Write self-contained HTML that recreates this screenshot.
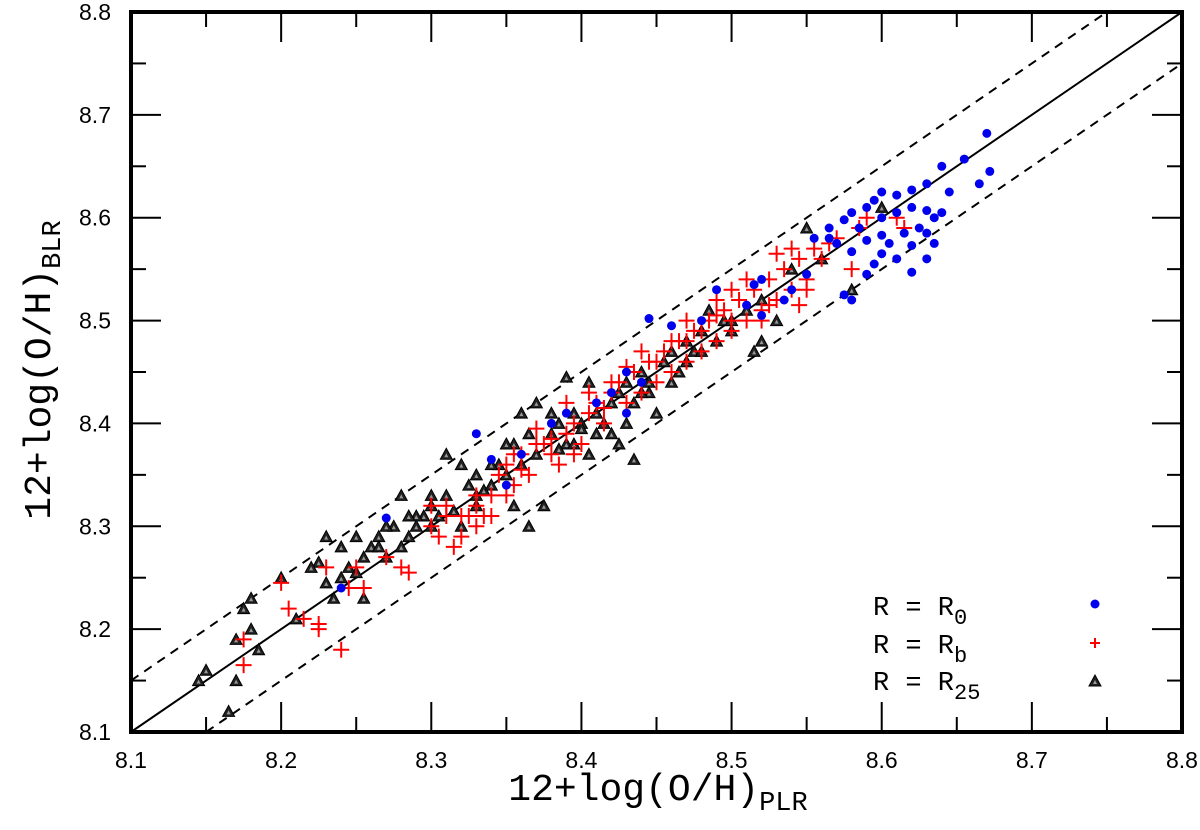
<!DOCTYPE html>
<html><head><meta charset="utf-8"><style>
html,body{margin:0;background:#fff;overflow:hidden;width:1200px;height:830px}
svg{display:block}
</style></head><body>
<svg id="chart" width="1200" height="830" xmlns="http://www.w3.org/2000/svg">
<g id="marks"></g>
<g id="axes"></g>
</svg>
<script>
const xTicks=[8.1,8.2,8.3,8.4,8.5,8.6,8.7,8.8];
const yTicks=[8.1,8.2,8.3,8.4,8.5,8.6,8.7,8.8];
const blueX=[8.67,8.655,8.672,8.665,8.64,8.645,8.63,8.62,8.61,8.60,8.595,8.59,8.58,8.575,8.585,8.6,8.61,8.62,8.63,8.635,8.64,8.625,8.615,8.6,8.59,8.605,8.62,8.63,8.635,8.61,8.6,8.595,8.58,8.57,8.565,8.59,8.62,8.63,8.575,8.58,8.55,8.54,8.535,8.52,8.51,8.515,8.52,8.49,8.48,8.46,8.445,8.43,8.44,8.42,8.41,8.39,8.38,8.43,8.36,8.34,8.33,8.35,8.27,8.24,8.555,8.565];
const blueY=[8.682,8.657,8.645,8.633,8.65,8.625,8.633,8.627,8.622,8.625,8.617,8.61,8.605,8.598,8.59,8.6,8.605,8.61,8.607,8.6,8.605,8.59,8.585,8.583,8.578,8.575,8.573,8.585,8.575,8.56,8.565,8.555,8.567,8.575,8.58,8.545,8.547,8.56,8.525,8.52,8.545,8.53,8.52,8.505,8.515,8.535,8.54,8.53,8.5,8.495,8.502,8.45,8.44,8.43,8.42,8.41,8.4,8.41,8.37,8.365,8.39,8.34,8.308,8.24,8.58,8.59];
const redX=[8.175,8.175,8.2,8.205,8.215,8.225,8.225,8.23,8.24,8.245,8.25,8.255,8.27,8.28,8.285,8.3,8.305,8.31,8.315,8.32,8.325,8.33,8.335,8.34,8.345,8.35,8.355,8.36,8.365,8.37,8.375,8.38,8.385,8.39,8.395,8.40,8.405,8.41,8.415,8.42,8.425,8.43,8.435,8.44,8.445,8.45,8.455,8.46,8.465,8.47,8.475,8.48,8.485,8.49,8.495,8.5,8.505,8.51,8.515,8.52,8.525,8.53,8.535,8.54,8.545,8.55,8.555,8.56,8.565,8.57,8.58,8.585,8.59,8.61,8.615,8.5,8.51,8.49,8.47,8.46,8.44,8.43,8.42,8.405,8.39,8.37,8.36,8.35,8.34,8.33,8.32,8.3,8.55,8.545,8.52,8.525,8.48,8.47,8.45,8.415,8.395,8.38,8.355,8.33,8.31,8.53,8.54,8.5,8.49];
const redY=[8.19,8.165,8.245,8.22,8.21,8.2,8.205,8.26,8.18,8.24,8.26,8.24,8.27,8.26,8.255,8.3,8.29,8.32,8.28,8.29,8.31,8.32,8.31,8.33,8.35,8.36,8.34,8.37,8.35,8.395,8.38,8.37,8.36,8.39,8.4,8.38,8.41,8.42,8.4,8.43,8.44,8.42,8.45,8.43,8.46,8.44,8.47,8.45,8.48,8.46,8.49,8.47,8.5,8.48,8.51,8.49,8.52,8.5,8.53,8.51,8.54,8.52,8.55,8.53,8.56,8.54,8.57,8.56,8.575,8.58,8.55,8.59,8.6,8.6,8.59,8.53,8.54,8.505,8.5,8.48,8.47,8.455,8.44,8.43,8.42,8.38,8.355,8.33,8.31,8.33,8.31,8.32,8.53,8.515,8.5,8.515,8.49,8.48,8.46,8.415,8.37,8.385,8.37,8.3,8.31,8.565,8.57,8.5,8.52];
const blackX=[8.145,8.15,8.165,8.17,8.175,8.18,8.185,8.18,8.2,8.21,8.225,8.23,8.235,8.24,8.245,8.25,8.255,8.26,8.265,8.27,8.275,8.28,8.285,8.29,8.295,8.3,8.305,8.31,8.315,8.32,8.325,8.33,8.335,8.34,8.345,8.35,8.355,8.36,8.365,8.37,8.375,8.38,8.385,8.39,8.395,8.4,8.405,8.41,8.415,8.42,8.425,8.43,8.435,8.44,8.445,8.45,8.455,8.46,8.465,8.47,8.475,8.48,8.485,8.49,8.495,8.5,8.51,8.52,8.53,8.54,8.55,8.56,8.58,8.6,8.425,8.435,8.445,8.405,8.395,8.37,8.36,8.35,8.33,8.32,8.31,8.3,8.29,8.28,8.27,8.25,8.24,8.23,8.22,8.265,8.355,8.365,8.39,8.41,8.44,8.46,8.47,8.48,8.5,8.515,8.52,8.43,8.42,8.4,8.385,8.38,8.34,8.33,8.3,8.285,8.255,8.17];
const blackY=[8.15,8.16,8.12,8.19,8.22,8.23,8.18,8.2,8.25,8.21,8.265,8.29,8.23,8.28,8.26,8.255,8.27,8.28,8.29,8.27,8.3,8.28,8.29,8.3,8.31,8.32,8.31,8.33,8.315,8.3,8.34,8.32,8.335,8.34,8.36,8.35,8.38,8.36,8.39,8.37,8.32,8.39,8.4,8.38,8.41,8.4,8.44,8.41,8.4,8.42,8.43,8.44,8.42,8.45,8.44,8.41,8.46,8.47,8.45,8.48,8.47,8.49,8.51,8.48,8.5,8.5,8.51,8.52,8.5,8.55,8.59,8.56,8.53,8.61,8.38,8.365,8.43,8.37,8.38,8.42,8.41,8.38,8.35,8.36,8.37,8.33,8.31,8.33,8.3,8.29,8.25,8.245,8.26,8.28,8.32,8.3,8.445,8.39,8.43,8.44,8.46,8.47,8.49,8.47,8.48,8.4,8.39,8.395,8.375,8.41,8.36,8.33,8.3,8.31,8.23,8.15];

const L=131,R=1182,T=12,B=732,NS="http://www.w3.org/2000/svg";
const sx=v=>L+(v-8.1)/0.7*(R-L);
const sy=v=>B-(v-8.1)/0.7*(B-T);
function mk(tag,attrs,parent,text){const e=document.createElementNS(NS,tag);for(const k in attrs)e.setAttribute(k,attrs[k]);if(text!==undefined)e.textContent=text;parent.appendChild(e);return e;}
const marks=document.getElementById('marks'),axes=document.getElementById('axes');
function refLine(off,dash,name){
  const x0=Math.max(8.1,8.1-off), x1=Math.min(8.8,8.8-off);
  const l=mk('line',{x1:sx(x0),y1:sy(x0+off),x2:sx(x1),y2:sy(x1+off),stroke:'#000','stroke-width':2,'stroke-dasharray':dash},marks);
  
  
}
refLine(0,'none','one-to-one-line');
refLine(0.05,'9,7','upper-dashed-line');
refLine(-0.05,'9,7','lower-dashed-line');
function tri(x,y,g){
  const s=mk('g',{},g);
  mk('polygon',{points:`${x},${y-6} ${x-6},${y+5} ${x+6},${y+5}`,fill:'#222',stroke:'#000','stroke-width':1},s);
  mk('polygon',{points:`${x},${y-1} ${x-2},${y+3} ${x+2},${y+3}`,fill:'#999'},s);
  return s;
}
function plus(x,y,g,sz){
  const s=mk('g',{stroke:'#f00','stroke-width':2},g);
  mk('line',{x1:x-sz,y1:y,x2:x+sz,y2:y},s);mk('line',{x1:x,y1:y-sz,x2:x,y2:y+sz},s);
  return s;
}
const gB=mk('g',{},marks);
blackX.forEach((v,i)=>{const e=tri(sx(v),sy(blackY[i]),gB);

});
const gR=mk('g',{},marks);
redX.forEach((v,i)=>{const e=plus(sx(v),sy(redY[i]),gR,8);

});
const gU=mk('g',{},marks);
blueX.forEach((v,i)=>{const e=mk('circle',{cx:sx(v),cy:sy(blueY[i]),r:4.5,fill:'#0000ee'},gU);

});

const fr=mk('rect',{x:L,y:T,width:R-L,height:B-T,fill:'none',stroke:'#000','stroke-width':4},axes);


const tk=mk('g',{stroke:'#000','stroke-width':2},axes);
for(let i=0;i<xTicks.length-1;i++){
  const a=xTicks[i],m=(xTicks[i]+xTicks[i+1])/2;
  [[a,30],[m,15]].forEach(([v,len])=>{const x=sx(v);
    mk('line',{x1:x,y1:B,x2:x,y2:B-len},tk);mk('line',{x1:x,y1:T,x2:x,y2:T+len},tk);});
}
for(let i=0;i<yTicks.length-1;i++){
  const a=yTicks[i],m=(yTicks[i]+yTicks[i+1])/2;
  [[a,30],[m,15]].forEach(([v,len])=>{const y=sy(v);
    mk('line',{x1:L,y1:y,x2:L+len,y2:y},tk);mk('line',{x1:R,y1:y,x2:R-len,y2:y},tk);});
}
const font='"Liberation Sans", sans-serif';
xTicks.forEach(v=>{const t=mk('text',{x:sx(v),y:768,'text-anchor':'middle','font-family':font,'font-size':23},axes,v.toFixed(1));

});
yTicks.forEach(v=>{const t=mk('text',{x:111,y:sy(v)+8,'text-anchor':'end','font-family':font,'font-size':23},axes,v.toFixed(1));

});
const mono='"Liberation Mono", monospace';
const xt=mk('text',{x:658,y:800,'text-anchor':'middle','font-family':mono,'font-size':38},axes);


xt.innerHTML='12+log(O/H)<tspan font-size="27" dy="10">PLR</tspan>';
const yt=mk('text',{x:0,y:0,'text-anchor':'middle','font-family':mono,'font-size':38,transform:'translate(50,370) rotate(-90)'},axes);


yt.innerHTML='12+log(O/H)<tspan font-size="27" dy="10">BLR</tspan>';
const lg=mk('g',{},axes);
const ents=[['0',615],['b',653],['25',690]];
ents.forEach(([s,y],i)=>{
  const t=mk('text',{x:873,y:y,'font-family':mono,'font-size':27},lg);
  
  
  t.innerHTML='R = R<tspan font-size="22" dy="9">'+s+'</tspan>';
});
const lc=mk('circle',{cx:1095,cy:604,r:4.5,fill:'#0000ee'},lg);


const lp=plus(1095,643,lg,5);


const lt=tri(1095,681,lg);


</script>
</body></html>
